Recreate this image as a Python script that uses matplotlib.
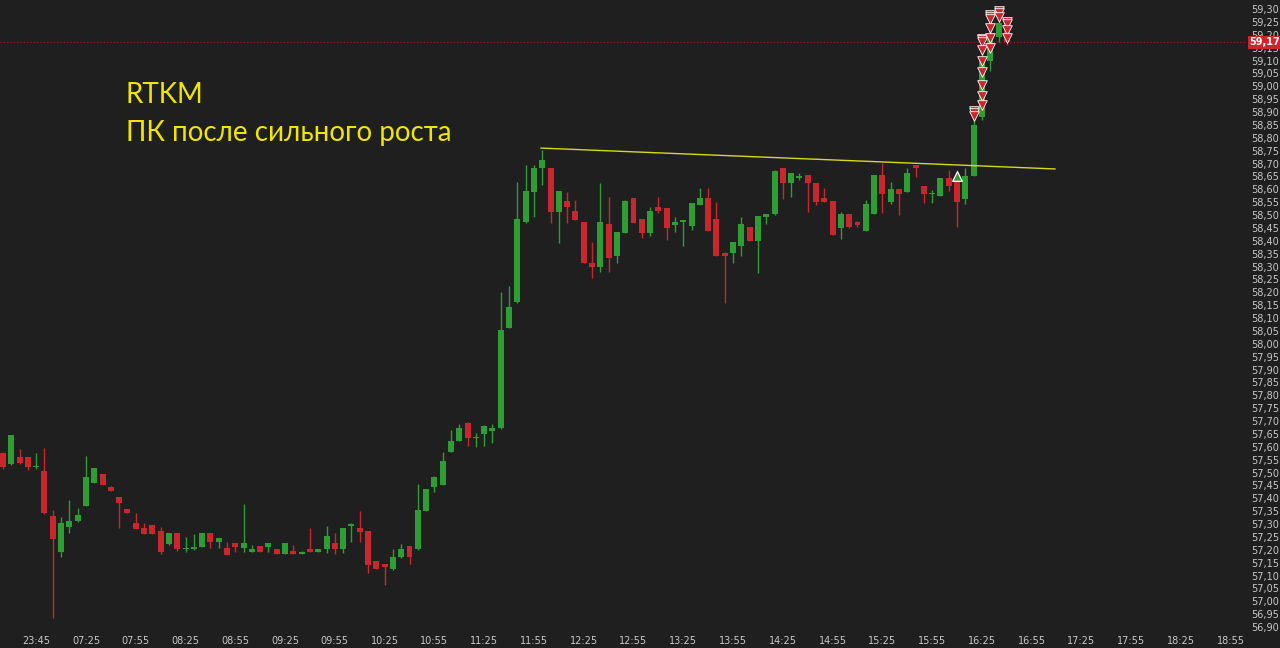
import matplotlib
matplotlib.use("Agg")
import matplotlib.pyplot as plt
import numpy as np

# 5-minute candles, RTKM
opens = [57.575, 57.532, 57.559, 57.559, 57.520, 57.506, 57.332, 57.193, 57.289, 57.313,
         57.370, 57.460, 57.494, 57.445, 57.404, 57.357, 57.303, 57.286, 57.295, 57.274,
         57.221, 57.264, 57.203, 57.205, 57.210, 57.264, 57.231, 57.206, 57.226, 57.208,
         57.193, 57.215, 57.210, 57.203, 57.184, 57.195, 57.184, 57.204, 57.193, 57.203,
         57.226, 57.202, 57.293, 57.283, 57.274, 57.156, 57.144, 57.124, 57.171, 57.215,
         57.202, 57.352, 57.443, 57.451, 57.581, 57.624, 57.694, 57.634, 57.650, 57.661,
         57.672, 58.062, 58.161, 58.472, 58.591, 58.681, 58.681, 58.511, 58.554, 58.516,
         58.472, 58.312, 58.300, 58.465, 58.341, 58.431, 58.565, 58.485, 58.431, 58.532,
         58.526, 58.461, 58.473, 58.459, 58.539, 58.565, 58.485, 58.354, 58.351, 58.380,
         58.452, 58.400, 58.491, 58.503, 58.681, 58.623, 58.643, 58.654, 58.623, 58.565,
         58.554, 58.451, 58.504, 58.474, 58.439, 58.504, 58.655, 58.552, 58.600, 58.591,
         58.694, 58.613, 58.580, 58.574, 58.643, 58.649, 58.561, 58.652, 58.880, 59.100,
         59.190, 59.245]
highs = [57.580, 57.646, 57.590, 57.560, 57.575, 57.594, 57.355, 57.328, 57.393, 57.362,
         57.564, 57.516, 57.495, 57.447, 57.406, 57.360, 57.342, 57.303, 57.297, 57.290,
         57.264, 57.265, 57.250, 57.260, 57.264, 57.265, 57.246, 57.232, 57.227, 57.377,
         57.219, 57.216, 57.227, 57.204, 57.226, 57.219, 57.195, 57.283, 57.204, 57.293,
         57.264, 57.283, 57.305, 57.350, 57.275, 57.157, 57.145, 57.202, 57.221, 57.216,
         57.454, 57.435, 57.485, 57.581, 57.665, 57.689, 57.695, 57.655, 57.683, 57.689,
         58.202, 58.224, 58.629, 58.694, 58.694, 58.752, 58.682, 58.595, 58.591, 58.558,
         58.473, 58.396, 58.623, 58.571, 58.436, 58.557, 58.566, 58.486, 58.532, 58.571,
         58.527, 58.494, 58.480, 58.546, 58.604, 58.604, 58.552, 58.355, 58.395, 58.494,
         58.453, 58.497, 58.505, 58.673, 58.682, 58.665, 58.662, 58.655, 58.624, 58.604,
         58.555, 58.513, 58.505, 58.475, 58.558, 58.656, 58.701, 58.629, 58.601, 58.681,
         58.695, 58.614, 58.597, 58.644, 58.675, 58.675, 58.681, 58.880, 59.190, 59.270,
         59.290, 59.270]
lows = [57.515, 57.530, 57.535, 57.510, 57.515, 57.340, 56.934, 57.173, 57.264, 57.310,
        57.370, 57.458, 57.450, 57.430, 57.283, 57.342, 57.281, 57.260, 57.261, 57.184,
        57.220, 57.195, 57.190, 57.200, 57.210, 57.206, 57.206, 57.180, 57.193, 57.193,
        57.190, 57.193, 57.193, 57.184, 57.183, 57.184, 57.183, 57.193, 57.192, 57.186,
        57.184, 57.186, 57.232, 57.232, 57.109, 57.124, 57.062, 57.123, 57.170, 57.144,
        57.200, 57.350, 57.426, 57.450, 57.580, 57.623, 57.604, 57.600, 57.604, 57.614,
        57.670, 58.060, 58.160, 58.470, 58.494, 58.617, 58.468, 58.393, 58.468, 58.479,
        58.312, 58.254, 58.280, 58.280, 58.312, 58.430, 58.470, 58.409, 58.418, 58.509,
        58.403, 58.435, 58.380, 58.442, 58.538, 58.439, 58.341, 58.157, 58.312, 58.341,
        58.400, 58.274, 58.465, 58.502, 58.561, 58.571, 58.636, 58.513, 58.539, 58.551,
        58.421, 58.406, 58.451, 58.455, 58.438, 58.503, 58.509, 58.543, 58.500, 58.590,
        58.649, 58.545, 58.545, 58.573, 58.594, 58.455, 58.543, 58.650, 58.870, 59.060,
        59.170, 59.160]
closes = [57.520, 57.646, 57.537, 57.520, 57.525, 57.342, 57.242, 57.303, 57.313, 57.335,
          57.484, 57.516, 57.450, 57.430, 57.380, 57.342, 57.281, 57.261, 57.261, 57.190,
          57.264, 57.202, 57.207, 57.210, 57.264, 57.231, 57.246, 57.180, 57.210, 57.226,
          57.204, 57.193, 57.226, 57.184, 57.226, 57.184, 57.186, 57.193, 57.204, 57.253,
          57.202, 57.283, 57.299, 57.270, 57.140, 57.124, 57.132, 57.173, 57.203, 57.171,
          57.354, 57.435, 57.484, 57.545, 57.624, 57.672, 57.633, 57.636, 57.682, 57.672,
          58.053, 58.144, 58.483, 58.594, 58.681, 58.714, 58.511, 58.594, 58.532, 58.480,
          58.312, 58.300, 58.474, 58.332, 58.435, 58.556, 58.470, 58.431, 58.516, 58.517,
          58.448, 58.474, 58.475, 58.545, 58.565, 58.439, 58.341, 58.341, 58.394, 58.464,
          58.400, 58.496, 58.504, 58.672, 58.623, 58.664, 58.653, 58.623, 58.552, 58.552,
          58.422, 58.504, 58.452, 58.461, 58.543, 58.655, 58.582, 58.600, 58.582, 58.664,
          58.681, 58.582, 58.587, 58.643, 58.613, 58.552, 58.653, 58.850, 59.100, 59.190,
          59.245, 59.170]

# x-axis labels (candle index -> time)
tick_labels = ["23:45", "07:25", "07:55", "08:25", "08:55", "09:25", "09:55", "10:25",
               "10:55", "11:25", "11:55", "12:25", "12:55", "13:25", "13:55", "14:25",
               "14:55", "15:25", "15:55", "16:25", "16:55", "17:25", "17:55", "18:25", "18:55"]
tick_pos = [4] + [10 + 6 * k for k in range(len(tick_labels) - 1)]

# trades (sell markers) on the last candles
sell_idx = [117, 117, 117,
            118, 118, 118, 118, 118, 118, 118, 118, 118,
            119, 119, 119, 119, 119, 119,
            120, 120, 120,
            121, 121, 121, 121]
sell_price = [58.905, 58.895, 58.885,
              59.185, 59.178, 59.170, 59.140, 59.098, 59.055, 59.005, 58.962, 58.927,
              59.275, 59.268, 59.262, 59.226, 59.187, 59.149,
              59.292, 59.286, 59.270,
              59.250, 59.243, 59.219, 59.187]
buy_idx = [115]
buy_price = [58.652]

last_price = 59.17
trend_x = [64.85, 126.8]
trend_y = [58.760, 58.679]

bg = "#1f1f1f"
up_col = "#2e9e34"
down_col = "#c9272d"
txt_col = "#c8c8c8"

fig = plt.figure(figsize=(12.8, 6.48), dpi=100, facecolor=bg)
ax = fig.add_axes([0, 16 / 648, 1246 / 1280, 632 / 648])
ax.set_facecolor(bg)

o = np.array(opens)
h = np.array(highs)
l = np.array(lows)
c = np.array(closes)
idx = np.arange(len(o))
cols = [up_col if cc >= oo else down_col for oo, cc in zip(o, c)]

ax.vlines(idx, l, h, colors=cols, linewidth=1.0, zorder=2)
body_h = np.maximum(np.abs(c - o), 0.006)
ax.bar(idx, body_h, bottom=np.minimum(o, c), width=0.72, color=cols, linewidth=0, zorder=3)

# trendline
ax.plot(trend_x, trend_y, color="#d8d820", linewidth=1.0, zorder=4)

# last price line
ax.axhline(last_price, color="#a02020", linewidth=0.8, linestyle=(0, (1, 2)), zorder=1)

# trade markers
ax.scatter(sell_idx, sell_price, marker="v", s=48, facecolor=down_col, edgecolor="white",
           linewidth=0.6, zorder=5)
ax.scatter(buy_idx, buy_price, marker="^", s=48, facecolor=up_col, edgecolor="white",
           linewidth=0.9, zorder=5)

ax.set_xlim(-0.362, 149.83)
ax.set_ylim(56.881, 59.335)

yt = np.round(np.arange(56.90, 59.301, 0.05), 2)
ax.set_yticks(yt)
ax.set_yticklabels([f"{v:.2f}".replace(".", ",") for v in yt])
ax.yaxis.tick_right()
ax.set_xticks(tick_pos)
ax.set_xticklabels(tick_labels)
ax.tick_params(axis="both", length=0, labelsize=7, colors=txt_col)
ax.tick_params(axis="y", pad=4)
ax.tick_params(axis="x", pad=3)
for s in ax.spines.values():
    s.set_visible(False)

# current price box
ax.annotate(f"{last_price:.2f}".replace(".", ","), xy=(1.0, last_price),
            xycoords=("axes fraction", "data"), xytext=(2.5, 0), textcoords="offset points",
            ha="left", va="center", fontsize=7, color="white", fontweight="bold",
            bbox=dict(boxstyle="square,pad=0.2", facecolor=down_col, edgecolor="none"),
            annotation_clip=False, zorder=6)

fig.text(126 / 1280, 1 - 103 / 648, "RTKM", color="#f0e600", fontsize=20,
         family="Lato", va="baseline", ha="left")
fig.text(126 / 1280, 1 - 141 / 648, "ПК после сильного роста", color="#f0e600",
         fontsize=20, family="Lato", va="baseline", ha="left")

fig.savefig("out.png", dpi=100, facecolor=bg)
